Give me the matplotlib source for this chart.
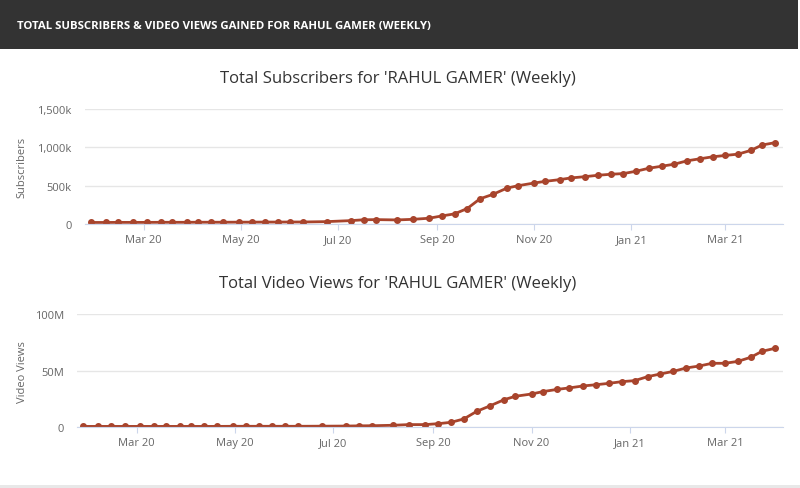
import pandas as pd
import matplotlib.pyplot as plt
import matplotlib.dates as mdates
from matplotlib.ticker import FuncFormatter
from matplotlib.patches import Rectangle

# weekly snapshots
dates = ['2020-01-28', '2020-02-06', '2020-02-14', '2020-02-23', '2020-03-03',
         '2020-03-12', '2020-03-19', '2020-03-28', '2020-04-04', '2020-04-12',
         '2020-04-20', '2020-04-30', '2020-05-08', '2020-05-16', '2020-05-24',
         '2020-06-01', '2020-06-09', '2020-06-24', '2020-07-09', '2020-07-17',
         '2020-07-25', '2020-08-07', '2020-08-17', '2020-08-27', '2020-09-04',
         '2020-09-12', '2020-09-20', '2020-09-28', '2020-10-06', '2020-10-15',
         '2020-10-22', '2020-11-01', '2020-11-08', '2020-11-17', '2020-11-24',
         '2020-12-03', '2020-12-11', '2020-12-19', '2020-12-27', '2021-01-04',
         '2021-01-12', '2021-01-20', '2021-01-28', '2021-02-05', '2021-02-13',
         '2021-02-21', '2021-03-01', '2021-03-09', '2021-03-17', '2021-03-24',
         '2021-04-01']

subscribers = [20, 20, 21, 21, 21, 22, 22, 22, 23, 23,
               23, 24, 24, 25, 25, 26, 26, 31, 44, 55,
               57, 53, 61, 75, 105, 132, 202, 329, 386, 469,
               500, 535, 557, 579, 601, 618, 636, 649, 658, 689,
               728, 754, 781, 825, 851, 877, 895, 912, 961, 1031,
               1061]  # thousands

views = [0.8, 0.8, 0.8, 0.8, 0.8, 0.8, 0.8, 0.8, 0.8, 0.8,
         0.8, 0.9, 0.9, 0.9, 0.9, 0.9, 0.9, 1.0, 1.1, 1.3,
         1.4, 1.8, 2.4, 2.4, 3.2, 4.4, 7.4, 14.1, 18.8, 24.4,
         27.4, 29.4, 31.5, 33.5, 34.7, 36.5, 37.6, 38.8, 40.3, 41.2,
         44.7, 47.1, 49.4, 52.4, 54.1, 56.5, 56.5, 58.2, 61.8, 67.1,
         69.7]  # millions

header = 'TOTAL SUBSCRIBERS & VIDEO VIEWS GAINED FOR RAHUL GAMER (WEEKLY)'
title1 = "Total Subscribers for 'RAHUL GAMER' (Weekly)"
title2 = "Total Video Views for 'RAHUL GAMER' (Weekly)"

x = pd.to_datetime(dates)
line_color = '#a8442c'
grid_color = '#e6e6e6'
text_color = '#666666'

plt.rcParams['font.family'] = ['Open Sans', 'DejaVu Sans']

fig = plt.figure(figsize=(8, 4.89), dpi=100)
fig.patch.set_facecolor('white')

# dark header band
fig.patches.append(Rectangle((0, 1 - 50 / 489), 0.997, 50 / 489, transform=fig.transFigure,
                             facecolor='#333333', edgecolor='none', zorder=0))
fig.patches.append(Rectangle((0, 0), 1, 3 / 489, transform=fig.transFigure,
                             facecolor='#e8e8e8', edgecolor='none', zorder=0))
fig.text(17 / 800, 1 - 27 / 489, header, color='white', fontsize=8.2,
         fontweight='bold', va='center', ha='left')


def style(ax, ylim, yticks, fmt, ylabel, label_x, title, title_y):
    ax.set_ylim(*ylim)
    ax.set_yticks(yticks)
    ax.yaxis.set_major_formatter(FuncFormatter(fmt))
    ax.set_xlim(pd.Timestamp('2020-01-24'), pd.Timestamp('2021-04-06'))
    ax.xaxis.set_major_locator(mdates.MonthLocator(bymonth=[1, 3, 5, 7, 9, 11]))
    ax.xaxis.set_major_formatter(mdates.DateFormatter('%b %y'))
    ax.grid(axis='y', color=grid_color, linewidth=1)
    ax.set_axisbelow(True)
    for s in ['top', 'right', 'left']:
        ax.spines[s].set_visible(False)
    ax.spines['bottom'].set_color('#ccd6eb')
    ax.tick_params(axis='y', length=0, labelsize=8, labelcolor=text_color, pad=9.5)
    ax.tick_params(axis='x', length=4, color='#ccd6eb', labelsize=8,
                   labelcolor=text_color, pad=3)
    ax.set_ylabel(ylabel, fontsize=8, color=text_color)
    ax.yaxis.set_label_coords(label_x, 0.5)
    fig.text(0.4975, title_y, title, ha='center', va='center', fontsize=12,
             color='#333333')


ax1 = fig.add_axes([0.106, 0.5399, 0.8725, 0.235])
ax1.plot(x, subscribers, color=line_color, linewidth=2, marker='o', markersize=4)
style(ax1, (0, 1500), [0, 500, 1000, 1500],
      lambda v, p: '0' if v == 0 else f'{int(v):,}k', 'Subscribers', -0.082,
      title1, 1 - 79 / 489)

ax2 = fig.add_axes([0.09625, 0.1241, 0.8825, 0.2317])
ax2.plot(x, views, color=line_color, linewidth=2, marker='o', markersize=4)
style(ax2, (0, 100), [0, 50, 100],
      lambda v, p: '0' if v == 0 else f'{int(v)}M', 'Video Views', -0.069,
      title2, 1 - 284 / 489)

fig.savefig('out.png', dpi=100)
